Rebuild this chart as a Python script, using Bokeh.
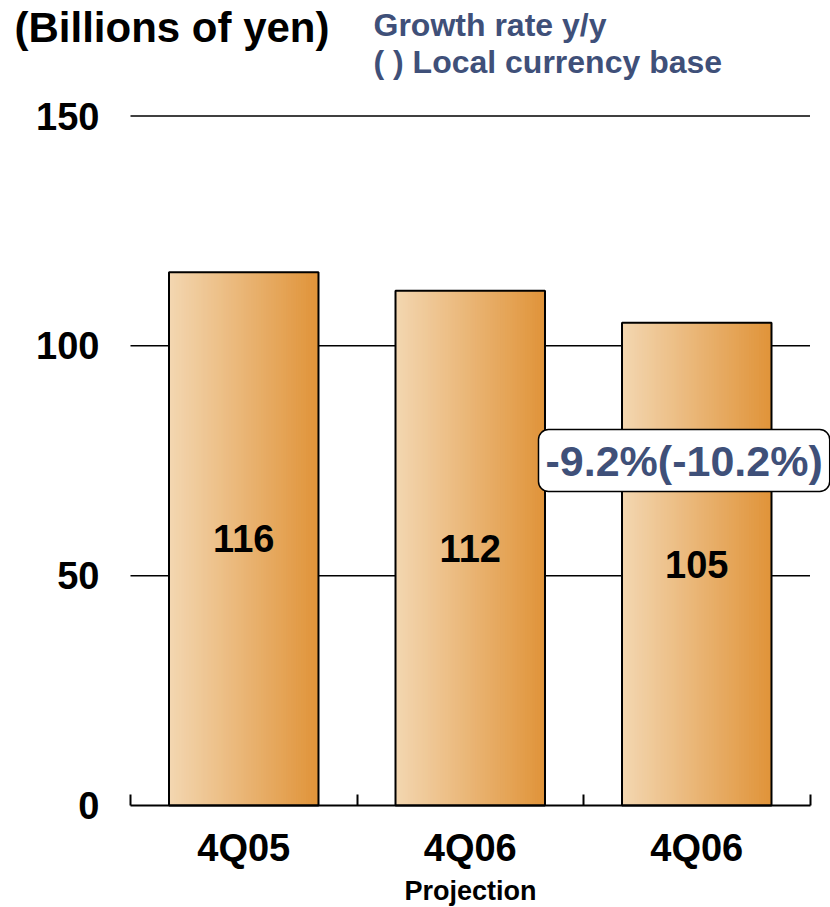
from bokeh.plotting import figure
from bokeh.models import Range1d, FixedTicker, Label, ColumnDataSource, LinearAxis, Grid
from bokeh.embed import file_html
from bokeh.resources import INLINE
from bokeh.core.properties import value

# ---- data ----
categories = ["4Q05", "4Q06", "4Q06"]
values = [116, 112, 105]
y_ticks = [0, 50, 100, 150]
grid_ticks = [50, 100, 150]
growth_label = "-9.2%(-10.2%)"
x_axis_title = "Projection"
unit_title = "(Billions of yen)"
legend_lines = ["Growth rate y/y", "( ) Local currency base"]

FONT = "Liberation Sans"
BLUE = "#3F5079"
W, H = 830, 907

# layout geometry (canvas pixels)
PLOT_L, PLOT_R = 130, 809.5     # x of first/last category boundary
Y0_PX, Y150_PX = 805, 115.5     # y of value 0 and value 150
ncat = len(categories)
xs = (PLOT_R - PLOT_L) / ncat
ys = (Y0_PX - Y150_PX) / 150.0
x_range = Range1d(-PLOT_L / xs, ncat + (W - PLOT_R) / xs)
y_range = Range1d(-(H - Y0_PX) / ys, 150 + Y150_PX / ys)


def px_x(px):
    return (px - PLOT_L) / xs


def px_y(py):
    return (Y0_PX - py) / ys


p = figure(width=W, height=H, output_backend="svg", toolbar_location=None,
           x_range=x_range, y_range=y_range,
           x_axis_location=None, y_axis_location=None,
           min_border=0, min_border_left=0, min_border_right=0,
           min_border_top=0, min_border_bottom=0)
p.outline_line_color = None
p.background_fill_color = "white"
p.border_fill_color = "white"
p.center = [r for r in p.center if not isinstance(r, Grid)]

# horizontal grid lines, spanning the category area only
n_g = len(grid_ticks)
p.segment(x0=[0] * n_g, x1=[ncat] * n_g, y0=grid_ticks, y1=grid_ticks,
          line_color="black", line_width=1.5)

# gradient bars
bar_width = 0.66
centers = [i + 0.5 for i in range(ncat)]
N = 60
c0 = (243, 214, 176)
c1 = (224, 148, 58)
ls, rs, ts, cols = [], [], [], []
for c, v in zip(centers, values):
    l = c - bar_width / 2
    r = c + bar_width / 2
    for k in range(N):
        t = k / (N - 1)
        rgb = tuple(int(round(a + (b - a) * t)) for a, b in zip(c0, c1))
        ls.append(l + (r - l) * k / N)
        rs.append(r)
        ts.append(v)
        cols.append("#%02x%02x%02x" % rgb)
p.quad(left=ls, right=rs, bottom=0, top=ts, fill_color=cols, line_color=None)
p.vbar(x=centers, width=bar_width, top=values, bottom=0, fill_color=None,
       line_color="black", line_width=2)

# bar value labels
src = ColumnDataSource(dict(x=centers, y=[v / 2 for v in values],
                            t=[str(v) for v in values]))
p.text(x="x", y="y", text="t", source=src, text_align="center",
       text_baseline="middle", text_font=value(FONT), text_font_style="bold",
       text_font_size="38px", text_color="black")

# y axis (labels only), fixed at x = 0
yaxis = LinearAxis(fixed_location=0, ticker=FixedTicker(ticks=y_ticks))
yaxis.axis_line_color = None
yaxis.major_tick_line_color = None
yaxis.minor_tick_line_color = None
yaxis.major_tick_in = 0
yaxis.major_tick_out = 0
yaxis.major_label_text_font = FONT
yaxis.major_label_text_font_style = "bold"
yaxis.major_label_text_font_size = "38px"
yaxis.major_label_text_color = "black"
yaxis.major_label_standoff = 31
p.add_layout(yaxis, "left")

# x axis, fixed at y = 0
xaxis = LinearAxis(fixed_location=0, bounds=(0, ncat),
                   ticker=FixedTicker(ticks=centers, minor_ticks=list(range(ncat + 1))))
xaxis.major_label_overrides = {c: lab for c, lab in zip(centers, categories)}
xaxis.major_tick_line_color = None
xaxis.major_tick_in = 0
xaxis.major_tick_out = 0
xaxis.minor_tick_line_color = "black"
xaxis.minor_tick_line_width = 2
xaxis.minor_tick_in = 11
xaxis.minor_tick_out = 0
xaxis.axis_line_color = "black"
xaxis.axis_line_width = 2
xaxis.major_label_text_font = FONT
xaxis.major_label_text_font_style = "bold"
xaxis.major_label_text_font_size = "38px"
xaxis.major_label_text_color = "black"
xaxis.major_label_standoff = 21
xaxis.axis_label = x_axis_title
xaxis.axis_label_text_font = FONT
xaxis.axis_label_text_font_style = "bold"
xaxis.axis_label_text_font_size = "27px"
xaxis.axis_label_text_color = "black"
xaxis.axis_label_standoff = 4
p.add_layout(xaxis, "below")

# growth annotation box
p.add_layout(Label(x=px_x(538), y=px_y(460), text=growth_label, text_align="left",
                   text_baseline="alphabetic", text_font=FONT, text_font_style="bold",
                   text_font_size="43px", text_color=BLUE,
                   background_fill_color="white", border_line_color="black",
                   border_line_width=1.5, padding=7, border_radius=10))

# titles
p.add_layout(Label(x=px_x(14), y=px_y(27), text=unit_title, text_align="left",
                   text_baseline="alphabetic", text_font=FONT, text_font_style="bold",
                   text_font_size="42px", text_color="black"))
p.add_layout(Label(x=px_x(373), y=px_y(24), text=legend_lines[0], text_align="left",
                   text_baseline="alphabetic", text_font=FONT, text_font_style="bold",
                   text_font_size="32px", text_color=BLUE))
p.add_layout(Label(x=px_x(373), y=px_y(61), text=legend_lines[1], text_align="left",
                   text_baseline="alphabetic", text_font=FONT, text_font_style="bold",
                   text_font_size="32px", text_color=BLUE))

open("out.html", "w").write(file_html(p, INLINE))
